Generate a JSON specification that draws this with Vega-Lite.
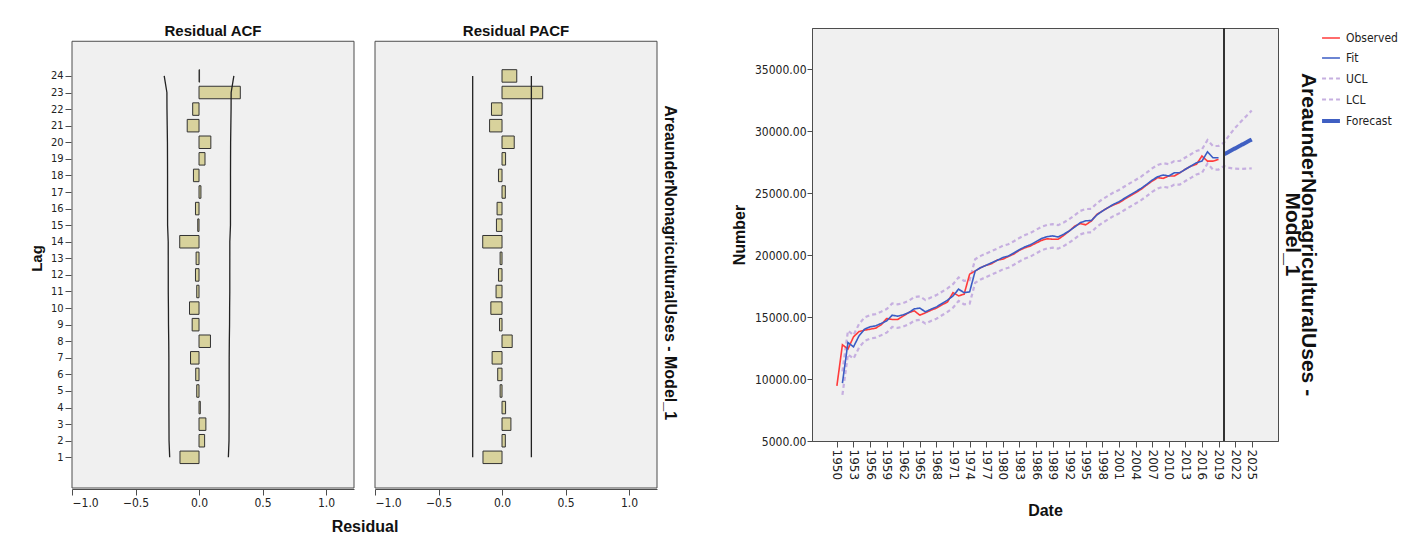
{
  "$schema": "https://vega.github.io/schema/vega-lite/v6.json",
  "background": "white",
  "padding": {"left": 29, "top": 24, "right": 2, "bottom": 2},
  "spacing": 53,
  "config": {
    "font": "Liberation Sans",
    "view": {"fill": null, "stroke": null},
    "axis": {"grid": false, "labelOverlap": false, "domainColor": "#4d4d4d", "tickColor": "#4d4d4d", "labelColor": "#222222", "labelFont": "Liberation Sans Narrow, DejaVu Sans Condensed, Liberation Sans", "labelFontSize": 12, "titleFont": "Liberation Sans", "titleFontWeight": "bold", "titleFontSize": 16, "titleColor": "#111111", "tickSize": 6, "labelPadding": 2},
    "legend": {"labelFont": "Liberation Sans Narrow, DejaVu Sans Condensed, Liberation Sans", "labelFontSize": 12, "labelColor": "#222222"}
  },
  "hconcat": [
    {
      "data": {"values": [
        {"panel": "Residual ACF", "lag": 1, "value": -0.150, "lcl": -0.231, "ucl": 0.231},
        {"panel": "Residual ACF", "lag": 2, "value": 0.044, "lcl": -0.236, "ucl": 0.236},
        {"panel": "Residual ACF", "lag": 3, "value": 0.054, "lcl": -0.2366, "ucl": 0.2366},
        {"panel": "Residual ACF", "lag": 4, "value": 0.010, "lcl": -0.2372, "ucl": 0.2372},
        {"panel": "Residual ACF", "lag": 5, "value": -0.018, "lcl": -0.2373, "ucl": 0.2373},
        {"panel": "Residual ACF", "lag": 6, "value": -0.026, "lcl": -0.2373, "ucl": 0.2373},
        {"panel": "Residual ACF", "lag": 7, "value": -0.067, "lcl": -0.2375, "ucl": 0.2375},
        {"panel": "Residual ACF", "lag": 8, "value": 0.090, "lcl": -0.2385, "ucl": 0.2385},
        {"panel": "Residual ACF", "lag": 9, "value": -0.054, "lcl": -0.2403, "ucl": 0.2403},
        {"panel": "Residual ACF", "lag": 10, "value": -0.075, "lcl": -0.2409, "ucl": 0.2409},
        {"panel": "Residual ACF", "lag": 11, "value": -0.018, "lcl": -0.2422, "ucl": 0.2422},
        {"panel": "Residual ACF", "lag": 12, "value": -0.028, "lcl": -0.2422, "ucl": 0.2422},
        {"panel": "Residual ACF", "lag": 13, "value": -0.023, "lcl": -0.2424, "ucl": 0.2424},
        {"panel": "Residual ACF", "lag": 14, "value": -0.152, "lcl": -0.2425, "ucl": 0.2425},
        {"panel": "Residual ACF", "lag": 15, "value": -0.010, "lcl": -0.2475, "ucl": 0.2475},
        {"panel": "Residual ACF", "lag": 16, "value": -0.028, "lcl": -0.2476, "ucl": 0.2476},
        {"panel": "Residual ACF", "lag": 17, "value": 0.015, "lcl": -0.2478, "ucl": 0.2478},
        {"panel": "Residual ACF", "lag": 18, "value": -0.044, "lcl": -0.2478, "ucl": 0.2478},
        {"panel": "Residual ACF", "lag": 19, "value": 0.047, "lcl": -0.2482, "ucl": 0.2482},
        {"panel": "Residual ACF", "lag": 20, "value": 0.093, "lcl": -0.2487, "ucl": 0.2487},
        {"panel": "Residual ACF", "lag": 21, "value": -0.093, "lcl": -0.2505, "ucl": 0.2505},
        {"panel": "Residual ACF", "lag": 22, "value": -0.050, "lcl": -0.2523, "ucl": 0.2523},
        {"panel": "Residual ACF", "lag": 23, "value": 0.325, "lcl": -0.2529, "ucl": 0.2529},
        {"panel": "Residual ACF", "lag": 24, "value": 0.004, "lcl": -0.2742, "ucl": 0.2742},
        {"panel": "Residual PACF", "lag": 1, "value": -0.150, "lcl": -0.231, "ucl": 0.231},
        {"panel": "Residual PACF", "lag": 2, "value": 0.026, "lcl": -0.231, "ucl": 0.231},
        {"panel": "Residual PACF", "lag": 3, "value": 0.070, "lcl": -0.231, "ucl": 0.231},
        {"panel": "Residual PACF", "lag": 4, "value": 0.028, "lcl": -0.231, "ucl": 0.231},
        {"panel": "Residual PACF", "lag": 5, "value": -0.015, "lcl": -0.231, "ucl": 0.231},
        {"panel": "Residual PACF", "lag": 6, "value": -0.034, "lcl": -0.231, "ucl": 0.231},
        {"panel": "Residual PACF", "lag": 7, "value": -0.078, "lcl": -0.231, "ucl": 0.231},
        {"panel": "Residual PACF", "lag": 8, "value": 0.080, "lcl": -0.231, "ucl": 0.231},
        {"panel": "Residual PACF", "lag": 9, "value": -0.020, "lcl": -0.231, "ucl": 0.231},
        {"panel": "Residual PACF", "lag": 10, "value": -0.088, "lcl": -0.231, "ucl": 0.231},
        {"panel": "Residual PACF", "lag": 11, "value": -0.047, "lcl": -0.231, "ucl": 0.231},
        {"panel": "Residual PACF", "lag": 12, "value": -0.028, "lcl": -0.231, "ucl": 0.231},
        {"panel": "Residual PACF", "lag": 13, "value": -0.015, "lcl": -0.231, "ucl": 0.231},
        {"panel": "Residual PACF", "lag": 14, "value": -0.152, "lcl": -0.231, "ucl": 0.231},
        {"panel": "Residual PACF", "lag": 15, "value": -0.044, "lcl": -0.231, "ucl": 0.231},
        {"panel": "Residual PACF", "lag": 16, "value": -0.039, "lcl": -0.231, "ucl": 0.231},
        {"panel": "Residual PACF", "lag": 17, "value": 0.026, "lcl": -0.231, "ucl": 0.231},
        {"panel": "Residual PACF", "lag": 18, "value": -0.028, "lcl": -0.231, "ucl": 0.231},
        {"panel": "Residual PACF", "lag": 19, "value": 0.028, "lcl": -0.231, "ucl": 0.231},
        {"panel": "Residual PACF", "lag": 20, "value": 0.096, "lcl": -0.231, "ucl": 0.231},
        {"panel": "Residual PACF", "lag": 21, "value": -0.098, "lcl": -0.231, "ucl": 0.231},
        {"panel": "Residual PACF", "lag": 22, "value": -0.083, "lcl": -0.231, "ucl": 0.231},
        {"panel": "Residual PACF", "lag": 23, "value": 0.320, "lcl": -0.231, "ucl": 0.231},
        {"panel": "Residual PACF", "lag": 24, "value": 0.116, "lcl": -0.231, "ucl": 0.231}
      ]},
      "facet": {
        "column": {
          "field": "panel", "type": "nominal", "sort": ["Residual ACF", "Residual PACF"],
          "header": {"title": "Residual", "titleOrient": "bottom", "labels": false, "titleFont": "Liberation Sans", "titleFontSize": 16, "titleFontWeight": "bold", "titleColor": "#111111", "titlePadding": 1}
        }
      },
      "spacing": 19,
      "title": {"text": "AreaunderNonagriculturalUses - Model_1", "orient": "right", "angle": 90, "anchor": "middle", "font": "Liberation Sans", "fontSize": 16, "fontWeight": "bold", "color": "#111111", "offset": 4, "dx": -17},
      "spec": {
        "width": 282,
        "height": 460,
        "layer": [
          {
            "transform": [{"filter": "datum.lag == 1"}],
            "mark": {"type": "rect", "fill": "#f0f0f0", "stroke": "#4d4d4d", "strokeWidth": 1},
            "encoding": {
              "x": {"datum": -1, "type": "quantitative", "scale": {"domain": [-1, 1.22], "nice": false, "zero": false, "padding": 0}, "axis": {"values": [-1, -0.5, 0, 0.5, 1], "format": ".1f", "title": null}},
              "x2": {"datum": 1.22},
              "y": {"datum": -0.85, "type": "quantitative", "scale": {"domain": [-0.85, 26.89], "nice": false, "zero": false, "padding": 0}, "axis": {"values": [1, 2, 3, 4, 5, 6, 7, 8, 9, 10, 11, 12, 13, 14, 15, 16, 17, 18, 19, 20, 21, 22, 23, 24], "format": "d", "tickCount": 40, "domain": false, "labelFontSize": 11, "title": "Lag", "titleFontSize": 15, "titlePadding": 6}},
              "y2": {"datum": 26.09}
            }
          },
          {
            "mark": {"type": "bar", "height": 12.5, "fill": "#d8d29c", "stroke": "#333333", "strokeWidth": 1},
            "encoding": {
              "x": {"field": "value", "type": "quantitative"},
              "x2": {"datum": 0},
              "y": {"field": "lag", "type": "quantitative"}
            }
          },
          {
            "mark": {"type": "line", "color": "#222222", "strokeWidth": 1.3},
            "encoding": {
              "x": {"field": "ucl", "type": "quantitative"},
              "y": {"field": "lag", "type": "quantitative"},
              "order": {"field": "lag", "type": "quantitative"}
            }
          },
          {
            "mark": {"type": "line", "color": "#222222", "strokeWidth": 1.3},
            "encoding": {
              "x": {"field": "lcl", "type": "quantitative"},
              "y": {"field": "lag", "type": "quantitative"},
              "order": {"field": "lag", "type": "quantitative"}
            }
          },
          {
            "transform": [{"filter": "datum.lag == 1"}],
            "mark": {"type": "text", "font": "Liberation Sans", "fontSize": 15, "fontWeight": "bold", "color": "#111111", "align": "center", "baseline": "middle"},
            "encoding": {
              "x": {"datum": 0.11},
              "y": {"datum": 26.69},
              "text": {"field": "panel"}
            }
          }
        ]
      }
    },
    {
      "width": 466,
      "height": 413,
      "view": {"fill": "#f0f0f0", "stroke": "#4d4d4d", "strokeWidth": 1},
      "data": {"values": [
        {"year": 1950, "Observed": 9450},
        {"year": 1951, "Observed": 12770, "Fit": 9680, "UCL": 10630, "LCL": 8730},
        {"year": 1952, "Observed": 12420, "Fit": 12950, "UCL": 13900, "LCL": 12000},
        {"year": 1953, "Observed": 13410, "Fit": 12600, "UCL": 13550, "LCL": 11650},
        {"year": 1954, "Observed": 13840, "Fit": 13490, "UCL": 14440, "LCL": 12540},
        {"year": 1955, "Observed": 13950, "Fit": 14030, "UCL": 14980, "LCL": 13080},
        {"year": 1956, "Observed": 14030, "Fit": 14220, "UCL": 15170, "LCL": 13270},
        {"year": 1957, "Observed": 14110, "Fit": 14300, "UCL": 15250, "LCL": 13350},
        {"year": 1958, "Observed": 14380, "Fit": 14490, "UCL": 15440, "LCL": 13540},
        {"year": 1959, "Observed": 14890, "Fit": 14700, "UCL": 15650, "LCL": 13750},
        {"year": 1960, "Observed": 14810, "Fit": 15160, "UCL": 16110, "LCL": 14210},
        {"year": 1961, "Observed": 14810, "Fit": 15080, "UCL": 16030, "LCL": 14130},
        {"year": 1962, "Observed": 15100, "Fit": 15190, "UCL": 16140, "LCL": 14240},
        {"year": 1963, "Observed": 15370, "Fit": 15370, "UCL": 16320, "LCL": 14420},
        {"year": 1964, "Observed": 15510, "Fit": 15670, "UCL": 16620, "LCL": 14720},
        {"year": 1965, "Observed": 15160, "Fit": 15730, "UCL": 16680, "LCL": 14780},
        {"year": 1966, "Observed": 15350, "Fit": 15430, "UCL": 16380, "LCL": 14480},
        {"year": 1967, "Observed": 15560, "Fit": 15640, "UCL": 16590, "LCL": 14690},
        {"year": 1968, "Observed": 15730, "Fit": 15830, "UCL": 16780, "LCL": 14880},
        {"year": 1969, "Observed": 15990, "Fit": 16100, "UCL": 17050, "LCL": 15150},
        {"year": 1970, "Observed": 16230, "Fit": 16370, "UCL": 17320, "LCL": 15420},
        {"year": 1971, "Observed": 16980, "Fit": 16720, "UCL": 17670, "LCL": 15770},
        {"year": 1972, "Observed": 16720, "Fit": 17260, "UCL": 18210, "LCL": 16310},
        {"year": 1973, "Observed": 16850, "Fit": 16980, "UCL": 17930, "LCL": 16030},
        {"year": 1974, "Observed": 18470, "Fit": 17040, "UCL": 17990, "LCL": 16090},
        {"year": 1975, "Observed": 18730, "Fit": 18730, "UCL": 19680, "LCL": 17780},
        {"year": 1976, "Observed": 19000, "Fit": 19000, "UCL": 19950, "LCL": 18050},
        {"year": 1977, "Observed": 19190, "Fit": 19190, "UCL": 20140, "LCL": 18240},
        {"year": 1978, "Observed": 19320, "Fit": 19400, "UCL": 20350, "LCL": 18450},
        {"year": 1979, "Observed": 19620, "Fit": 19590, "UCL": 20540, "LCL": 18640},
        {"year": 1980, "Observed": 19680, "Fit": 19810, "UCL": 20760, "LCL": 18860},
        {"year": 1981, "Observed": 19900, "Fit": 19940, "UCL": 20890, "LCL": 18990},
        {"year": 1982, "Observed": 20100, "Fit": 20180, "UCL": 21130, "LCL": 19230},
        {"year": 1983, "Observed": 20400, "Fit": 20450, "UCL": 21400, "LCL": 19500},
        {"year": 1984, "Observed": 20600, "Fit": 20680, "UCL": 21630, "LCL": 19730},
        {"year": 1985, "Observed": 20750, "Fit": 20850, "UCL": 21800, "LCL": 19900},
        {"year": 1986, "Observed": 20980, "Fit": 21100, "UCL": 22050, "LCL": 20150},
        {"year": 1987, "Observed": 21200, "Fit": 21350, "UCL": 22300, "LCL": 20400},
        {"year": 1988, "Observed": 21330, "Fit": 21500, "UCL": 22450, "LCL": 20550},
        {"year": 1989, "Observed": 21290, "Fit": 21560, "UCL": 22510, "LCL": 20610},
        {"year": 1990, "Observed": 21290, "Fit": 21480, "UCL": 22430, "LCL": 20530},
        {"year": 1991, "Observed": 21600, "Fit": 21690, "UCL": 22640, "LCL": 20740},
        {"year": 1992, "Observed": 21950, "Fit": 21960, "UCL": 22910, "LCL": 21010},
        {"year": 1993, "Observed": 22350, "Fit": 22280, "UCL": 23230, "LCL": 21330},
        {"year": 1994, "Observed": 22560, "Fit": 22630, "UCL": 23580, "LCL": 21680},
        {"year": 1995, "Observed": 22460, "Fit": 22780, "UCL": 23730, "LCL": 21830},
        {"year": 1996, "Observed": 22760, "Fit": 22800, "UCL": 23750, "LCL": 21850},
        {"year": 1997, "Observed": 23300, "Fit": 23250, "UCL": 24200, "LCL": 22300},
        {"year": 1998, "Observed": 23570, "Fit": 23570, "UCL": 24520, "LCL": 22620},
        {"year": 1999, "Observed": 23840, "Fit": 23840, "UCL": 24790, "LCL": 22890},
        {"year": 2000, "Observed": 24060, "Fit": 24110, "UCL": 25060, "LCL": 23160},
        {"year": 2001, "Observed": 24240, "Fit": 24320, "UCL": 25270, "LCL": 23370},
        {"year": 2002, "Observed": 24520, "Fit": 24600, "UCL": 25550, "LCL": 23650},
        {"year": 2003, "Observed": 24780, "Fit": 24870, "UCL": 25820, "LCL": 23920},
        {"year": 2004, "Observed": 25050, "Fit": 25130, "UCL": 26080, "LCL": 24180},
        {"year": 2005, "Observed": 25320, "Fit": 25400, "UCL": 26350, "LCL": 24450},
        {"year": 2006, "Observed": 25670, "Fit": 25720, "UCL": 26670, "LCL": 24770},
        {"year": 2007, "Observed": 25990, "Fit": 26070, "UCL": 27020, "LCL": 25120},
        {"year": 2008, "Observed": 26260, "Fit": 26340, "UCL": 27290, "LCL": 25390},
        {"year": 2009, "Observed": 26210, "Fit": 26480, "UCL": 27430, "LCL": 25530},
        {"year": 2010, "Observed": 26400, "Fit": 26400, "UCL": 27350, "LCL": 25450},
        {"year": 2011, "Observed": 26400, "Fit": 26660, "UCL": 27610, "LCL": 25710},
        {"year": 2012, "Observed": 26660, "Fit": 26660, "UCL": 27610, "LCL": 25710},
        {"year": 2013, "Observed": 26940, "Fit": 26940, "UCL": 27890, "LCL": 25990},
        {"year": 2014, "Observed": 27200, "Fit": 27200, "UCL": 28150, "LCL": 26250},
        {"year": 2015, "Observed": 27340, "Fit": 27470, "UCL": 28420, "LCL": 26520},
        {"year": 2016, "Observed": 28010, "Fit": 27600, "UCL": 28550, "LCL": 26650},
        {"year": 2017, "Observed": 27600, "Fit": 28350, "UCL": 29300, "LCL": 27400},
        {"year": 2018, "Observed": 27600, "Fit": 27870, "UCL": 28820, "LCL": 26920},
        {"year": 2019, "Observed": 27740, "Fit": 27870, "UCL": 28820, "LCL": 26920},
        {"year": 2020, "Forecast": 28150, "UCL": 29100, "LCL": 27200},
        {"year": 2021, "Forecast": 28390, "UCL": 29730, "LCL": 27050},
        {"year": 2022, "Forecast": 28630, "UCL": 30280, "LCL": 26990},
        {"year": 2023, "Forecast": 28870, "UCL": 30770, "LCL": 26970},
        {"year": 2024, "Forecast": 29110, "UCL": 31230, "LCL": 26990},
        {"year": 2025, "Forecast": 29350, "UCL": 31680, "LCL": 27020}
      ]},
      "title": {"text": ["AreaunderNonagriculturalUses -", "Model_1"], "orient": "right", "angle": 90, "anchor": "middle", "frame": "group", "font": "Liberation Sans", "fontSize": 21, "fontWeight": "bold", "color": "#111111", "offset": 4, "lineHeight": 16},
      "layer": [
        {
          "transform": [{"fold": ["UCL", "LCL", "Observed", "Fit", "Forecast"], "as": ["series", "v"]}],
          "mark": {"type": "line"},
          "encoding": {
            "x": {"field": "year", "type": "quantitative", "scale": {"domain": [1945.5, 2029.75], "nice": false, "zero": false}, "axis": {"values": [1950, 1953, 1956, 1959, 1962, 1965, 1968, 1971, 1974, 1977, 1980, 1983, 1986, 1989, 1992, 1995, 1998, 2001, 2004, 2007, 2010, 2013, 2016, 2019, 2022, 2025], "tickCount": 40, "format": "d", "labelAngle": 90, "labelFont": "DejaVu Sans", "labelFontSize": 12, "labelAlign": "left", "labelBaseline": "middle", "title": "Date", "titlePadding": 23}},
            "y": {"field": "v", "type": "quantitative", "scale": {"domain": [5000, 38350], "nice": false, "zero": false}, "axis": {"values": [5000, 10000, 15000, 20000, 25000, 30000, 35000], "tickCount": 40, "format": ".2f", "tickSize": 5, "labelPadding": 1, "title": "Number", "titlePadding": 7}},
            "color": {"field": "series", "type": "nominal", "scale": {"domain": ["Observed", "Fit", "UCL", "LCL", "Forecast"], "range": ["#ff3b3b", "#3b5cc4", "#c6afe0", "#c6afe0", "#3f5fc2"]}, "legend": {"title": null, "symbolType": "stroke", "symbolSize": 320, "rowPadding": 4, "offset": 0}},
            "strokeDash": {"field": "series", "type": "nominal", "scale": {"domain": ["Observed", "Fit", "UCL", "LCL", "Forecast"], "range": [[1, 0], [1, 0], [4, 3], [4, 3], [1, 0]]}, "legend": {"title": null}},
            "strokeWidth": {"field": "series", "type": "ordinal", "scale": {"type": "ordinal", "domain": ["Observed", "Fit", "UCL", "LCL", "Forecast"], "range": [1.6, 1.6, 2.2, 2.2, 4]}, "legend": {"title": null}}
          }
        },
        {
          "mark": {"type": "rule", "color": "#333333", "strokeWidth": 1.5},
          "encoding": {"x": {"datum": 2020}}
        }
      ]
    }
  ]
}
